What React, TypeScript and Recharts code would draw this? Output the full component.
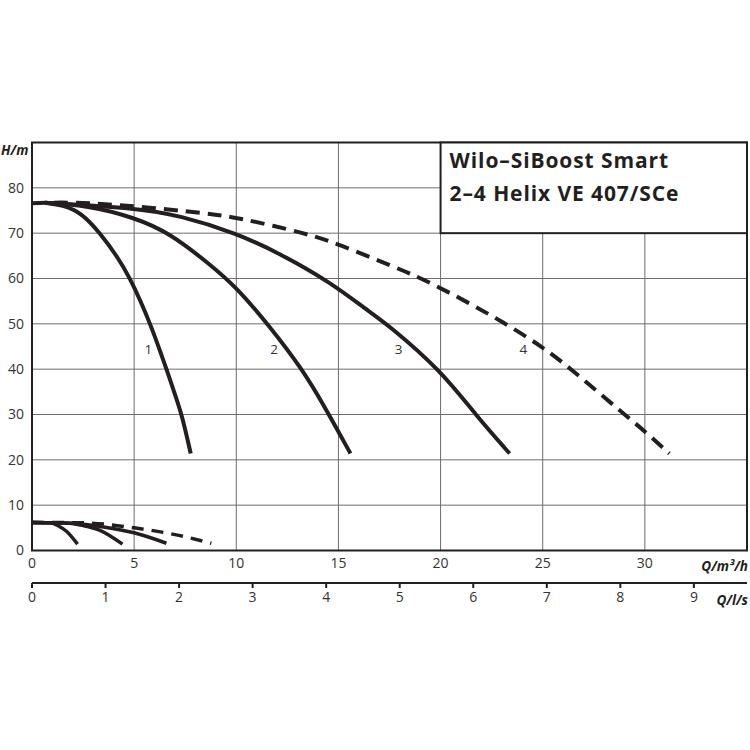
import React from "react";
import {
  LineChart,
  Line,
  XAxis,
  YAxis,
  CartesianGrid,
  ReferenceArea,
  ReferenceDot,
} from "recharts";

const FONT = '"Open Sans", "DejaVu Sans", sans-serif';
const INK = "#231f20";

// axis ticks
const qTicks = [0, 5, 10, 15, 20, 25, 30];
const lsTicks = [0, 1, 2, 3, 4, 5, 6, 7, 8, 9];
const hTicks = [0, 10, 20, 30, 40, 50, 60, 70, 80];

// head curves (Q m³/h, H m)
const pump1Q = [0.65, 1.5, 2.4, 3.34, 4.2, 4.8, 5.3, 5.8, 6.2, 6.6, 7.04, 7.35, 7.77];
const pump1H = [76.7, 76.2, 74.6, 70.0, 64.7, 60.0, 55.2, 49.8, 44.9, 39.8, 33.9, 29.7, 21.4];

const pump2Q = [0.65, 2.7, 5, 6.76, 8.71, 10, 11.57, 13.27, 14.42, 15, 15.59];
const pump2H = [76.7, 76.1, 73.5, 70.0, 63.1, 58.1, 49.8, 39.8, 30.9, 26.2, 21.4];

const pump3Q = [0.65, 5, 7.25, 10, 12.14, 14.6, 16.53, 17.43, 20, 21.75, 23.38];
const pump3H = [76.7, 75.6, 73.9, 70.0, 65.5, 59.2, 52.6, 49.8, 39.8, 29.7, 21.4];

const pump4Q = [0, 2, 5, 8.7, 10, 13.4, 15, 17.8, 19.1, 21.4, 23.2, 25, 26.4, 29, 30, 31.2];
const pump4H = [76.6, 76.9, 76.0, 74.3, 73.5, 70.0, 67.6, 62.4, 60.0, 54.6, 50.0, 44.9, 40.0, 30.0, 26.3, 21.4];

// lower curves
const low1Q = [0, 0.9, 1.3, 1.7, 2.23];
const low1H = [6.2, 6.1, 5.4, 4.2, 1.4];
const low2Q = [0, 1.5, 2.5, 3.3, 4.43];
const low2H = [6.2, 6.1, 5.5, 4.5, 1.4];
const low3Q = [0, 2, 3.5, 5, 6.58];
const low3H = [6.2, 6.0, 5.2, 3.9, 1.6];
const low4Q = [0, 2.5, 5, 7, 8.78];
const low4H = [6.2, 6.1, 5.0, 3.5, 1.6];

// curve numbers
const curveLabels = ["1", "2", "3", "4"];
const curveLabelQ = [5.7, 11.85, 17.95, 24.05];
const curveLabelH = 44.4;

const titleLines = ["Wilo–SiBoost Smart", "2–4 Helix VE 407/SCe"];

const toPoints = (qs: number[], hs: number[]) => qs.map((q, i) => ({ q, h: hs[i] }));

const solid = [
  toPoints(pump1Q, pump1H),
  toPoints(pump2Q, pump2H),
  toPoints(pump3Q, pump3H),
];
const lowSolid = [
  toPoints(low1Q, low1H),
  toPoints(low2Q, low2H),
  toPoints(low3Q, low3H),
];
// only there so the l/s axis gets a domain
const lsRange = [
  { q: 0, h: 0 },
  { q: 35 / 3.6, h: 0 },
];

const TitleBox = (props: any) => {
  const { x, y, width, height } = props;
  return (
    <g>
      <rect x={x} y={y} width={width} height={height} fill="#fff" stroke={INK} strokeWidth={2} />
      {titleLines.map((t, i) => (
        <text
          key={t}
          x={x + 9}
          y={y + 25 + i * 33.5}
          fontFamily={FONT}
          fontWeight={700}
          fontSize={21}
          letterSpacing={0.9}
          fill={INK}
        >
          {t}
        </text>
      ))}
    </g>
  );
};

const unitStyle = {
  fontFamily: FONT,
  fontStyle: "italic",
  fontWeight: 700,
  fontSize: 13.5,
  fill: INK,
} as const;

export default function App() {
  return (
    <div style={{ position: "fixed", left: 0, top: 0, width: 750, height: 750, background: "#fff" }}>
      <LineChart
        width={750}
        height={750}
        margin={{ top: 142.5, right: 3, left: 0, bottom: 127 }}
        style={{ fontFamily: FONT }}
      >
        <CartesianGrid xAxisId={0} stroke="#6d6d6d" strokeWidth={1} />
        <XAxis
          xAxisId={0}
          dataKey="q"
          type="number"
          domain={[0, 35]}
          ticks={qTicks}
          allowDataOverflow
          axisLine={false}
          tickLine={false}
          height={32.5}
          tick={{ fill: "#333", fontSize: 14 }}
          interval={0}
        />
        <XAxis
          xAxisId={1}
          dataKey="q"
          type="number"
          domain={[0, 35 / 3.6]}
          ticks={lsTicks}
          allowDataOverflow
          height={40}
          axisLine={{ stroke: INK, strokeWidth: 2 }}
          tickLine={{ stroke: INK, strokeWidth: 2 }}
          tickSize={5}
          tickMargin={4}
          tick={{ fill: "#333", fontSize: 14 }}
          interval={0}
        />
        <YAxis
          type="number"
          domain={[0, 90]}
          ticks={hTicks}
          allowDataOverflow
          width={32}
          axisLine={false}
          tickLine={false}
          tick={{ fill: "#333", fontSize: 14 }}
          interval={0}
        />

        <ReferenceArea
          xAxisId={0}
          x1={0}
          x2={35}
          y1={0}
          y2={90}
          fill="none"
          stroke={INK}
          strokeWidth={2}
          ifOverflow="visible"
        />
        <ReferenceArea
          xAxisId={0}
          x1={20}
          x2={35}
          y1={70}
          y2={90}
          shape={TitleBox}
          ifOverflow="visible"
        />

        <Line
          xAxisId={1}
          data={lsRange}
          dataKey="h"
          stroke="none"
          dot={false}
          legendType="none"
          isAnimationActive={false}
        />
        {solid.map((d, i) => (
          <Line
            key={"s" + i}
            xAxisId={0}
            data={d}
            dataKey="h"
            type="basis"
            stroke={INK}
            strokeWidth={4}
            dot={false}
            isAnimationActive={false}
          />
        ))}
        <Line
          xAxisId={0}
          data={toPoints(pump4Q, pump4H)}
          dataKey="h"
          type="basis"
          stroke={INK}
          strokeWidth={4}
          strokeDasharray="14 8"
          dot={false}
          isAnimationActive={false}
        />
        {lowSolid.map((d, i) => (
          <Line
            key={"l" + i}
            xAxisId={0}
            data={d}
            dataKey="h"
            type="monotone"
            stroke={INK}
            strokeWidth={3.5}
            dot={false}
            isAnimationActive={false}
          />
        ))}
        <Line
          xAxisId={0}
          data={toPoints(low4Q, low4H)}
          dataKey="h"
          type="monotone"
          stroke={INK}
          strokeWidth={3.5}
          strokeDasharray="12 8"
          dot={false}
          isAnimationActive={false}
        />

        {curveLabels.map((t, i) => (
          <ReferenceDot
            key={t}
            xAxisId={0}
            x={curveLabelQ[i]}
            y={curveLabelH}
            r={0}
            shape={(p: any) => (
              <text
                x={p.cx}
                y={p.cy}
                textAnchor="middle"
                dominantBaseline="central"
                fontFamily={FONT}
                fontSize={13.5}
                fill="#333"
              >
                {t}
              </text>
            )}
          />
        ))}
      </LineChart>
      <svg
        width={750}
        height={750}
        style={{ position: "absolute", left: 0, top: 0, pointerEvents: "none" }}
      >
        <text x={1} y={155} {...unitStyle}>
          H/m
        </text>
        <text x={748} y={571} textAnchor="end" {...unitStyle}>
          Q/m³/h
        </text>
        <text x={748} y={605} textAnchor="end" {...unitStyle}>
          Q/l/s
        </text>
      </svg>
    </div>
  );
}
